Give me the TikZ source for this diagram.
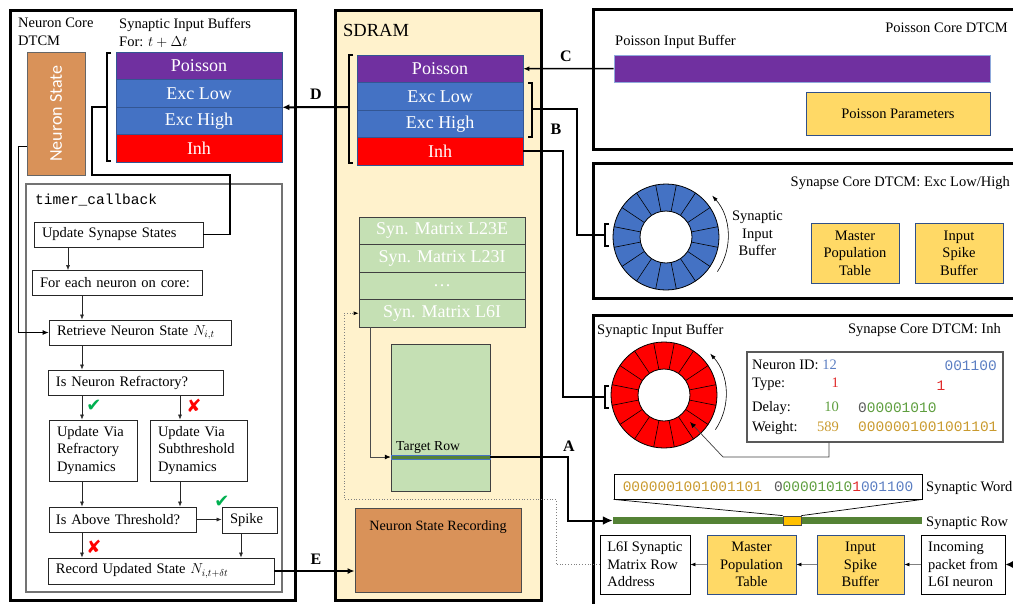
\documentclass[tikz,border=0pt]{standalone}
\usepackage{fontspec}
\setmainfont{Liberation Serif}
\setmonofont{Liberation Mono}
\newfontfamily\symfont{DejaVu Sans}
\newfontfamily\calfont{Carlito}
\usetikzlibrary{arrows.meta}
\definecolor{cpurple}{HTML}{7030A0}
\definecolor{cblue}{HTML}{4472C4}
\definecolor{cred}{HTML}{FF0000}
\definecolor{corange}{HTML}{D99259}
\definecolor{csdram}{HTML}{FFF2CC}
\definecolor{cgreenfill}{HTML}{C5E0B4}
\definecolor{cyellow}{HTML}{FFD966}
\definecolor{cdkgreen}{HTML}{548235}
\definecolor{cbit}{HTML}{FFC000}
\definecolor{tblue}{HTML}{5B7EC2}
\definecolor{tred}{HTML}{E02A2A}
\definecolor{tgreen}{HTML}{5E9E3E}
\definecolor{tgold}{HTML}{C99A2E}
\definecolor{tgray}{HTML}{595959}
\definecolor{ccheck}{HTML}{00B050}
\begin{document}
\begin{tikzpicture}[x=1pt,y=-1pt,font=\fontsize{14.5}{17.5}\selectfont,
  panel/.style={draw=black,line width=3pt},
  buf/.style={fill=#1,draw=cblue!75!black,line width=0.6pt,minimum width=166pt,minimum height=27.5pt,inner sep=0pt,text=white,font=\fontsize{18}{20}\selectfont},
  mat/.style={fill=cgreenfill,draw=black!75,line width=0.8pt,minimum width=166pt,minimum height=27.5pt,inner sep=0pt,text=white,font=\fontsize{18}{20}\selectfont},
  flow/.style={draw=black!85,line width=0.8pt,align=left,inner xsep=8pt,inner ysep=0pt,minimum height=25pt},
  ybox/.style={fill=cyellow,draw=cblue!70!black,line width=0.8pt,align=center,inner sep=0pt,minimum width=88pt,minimum height=60pt},
  wbox/.style={draw=black,line width=0.8pt,align=left,inner sep=0pt,minimum height=59pt},
  arr/.style={draw=black!85,line width=0.6pt,-{Latex[length=5pt,width=4pt]}},
  garr/.style={draw=black!50,line width=0.8pt,-{Latex[length=5pt,width=4pt,black]}},
  heavy/.style={line width=1.8pt},
  lbl/.style={font=\bfseries\fontsize{16}{18}\selectfont,inner sep=0pt},
  txt/.style={inner sep=0pt},
  mono/.style={font=\ttfamily\fontsize{14.5}{17}\selectfont,inner sep=0pt},
  tick/.style={font=\symfont\fontsize{18}{18}\selectfont,inner sep=0pt}
]
\useasboundingbox (0,0) rectangle (1013,603);

% ---------------- Left panel: Neuron Core DTCM ----------------
\draw[panel] (10,10) rectangle (295,600);
\node[txt,anchor=base west] at (18,27) {Neuron Core};
\node[txt,anchor=base west] at (18,45) {DTCM};
\node[txt,anchor=base west] at (119,28) {Synaptic Input Buffers};
\node[txt,anchor=base west] at (119,46) {For: $t+\Delta t$};

\node[fill=corange,draw=black!60,line width=0.6pt,minimum width=58pt,minimum height=123pt,inner sep=0pt] (nstate) at (56,113.5) {};
\node[rotate=90,text=white,font=\calfont\fontsize{18}{20}\selectfont,inner sep=0pt] at (nstate.center) {Neuron State};

\node[buf=cpurple] (lP) at (199,65.75) {Poisson};
\node[buf=cblue] (lEL) at (199,93.25) {Exc Low};
\node[buf=cblue] (lEH) at (199,120.75) {Exc High};
\node[buf=cred] (lI) at (199,148.25) {Inh};

\draw[draw=black!55,line width=1.5pt] (26,184) rectangle (282,592);
\node[mono,anchor=base west] at (35,204) {timer\_callback};

\node[flow,text width=153pt] (uss) at (118.5,234.5) {Update Synapse States};
\node[flow,text width=154pt] (fen) at (117,283) {For each neuron on core:};
\node[flow,text width=166pt] (rns) at (140,332.5) {Retrieve Neuron State $N_{i,t}$};
\node[flow,text width=159pt] (inr) at (135.5,382.5) {Is Neuron Refractory?};
\node[flow,text width=72pt,minimum height=61pt] (urd) at (93,450.5) {Update Via\\Refractory\\Dynamics};
\node[flow,text width=81pt,minimum height=61pt] (usd) at (198.5,450.5) {Update Via\\Subthreshold\\Dynamics};
\node[flow,text width=133pt,inner xsep=7pt] (iat) at (122.5,519.5) {Is Above Threshold?};
\node[flow,text width=39pt,minimum height=26pt] (spk) at (249.5,520) {Spike};
\node[flow,text width=210pt,minimum height=26pt] (rus) at (161,571) {Record Updated State $N_{i,t+\delta t}$};

\draw[arr] (uss.south -| 68,0) -- (fen.north -| 68,0);
\draw[arr] (fen.south -| 82,0) -- (rns.north -| 82,0);
\draw[arr] (rns.south -| 82,0) -- (inr.north -| 82,0);
\draw[arr] (inr.south -| 82,0) -- (urd.north -| 82,0);
\draw[arr] (inr.south -| 180,0) -- (usd.north -| 180,0);
\draw[arr] (urd.south -| 82,0) -- (iat.north -| 82,0);
\draw[arr] (usd.south -| 180,0) -- (iat.north -| 180,0);
\draw[arr] (iat.east) -- (spk.west |- iat.east);
\draw[arr] (iat.south -| 82,0) -- (rus.north -| 82,0);
\draw[arr] (spk.south -| 241,0) -- (rus.north -| 241,0);

\node[tick,text=ccheck] at (94,406) {✔};
\node[tick,text=cred] at (194,406) {✘};
\node[tick,text=ccheck] at (222,502) {✔};
\node[tick,text=cred] at (94,547) {✘};

% neuron state -> retrieve
\draw[line width=0.8pt,-{Latex[length=6pt,width=5pt]}] (nstate.west |- 0,146) -- (18,146) -- (18,0 |- rns.west) -- (rns.west);

% bracket of left buffers -> update synapse states
\draw[heavy] (111,53) -- (107,53) -- (107,161) -- (111,161);
\coordinate (lbt) at (107,107);
\draw[heavy] (lbt) -- (92,107) -- (92,175) -- (230,175) -- (uss.east -| 230,0) -- (uss.east);

% ---------------- SDRAM ----------------
\draw[panel,fill=csdram] (335,10) rectangle (541,600);
\node[txt,anchor=base west,font=\fontsize{18.5}{20}\selectfont] at (343,36) {SDRAM};

\node[buf=cpurple] (sP) at (440,68.75) {Poisson};
\node[buf=cblue] (sEL) at (440,96.25) {Exc Low};
\node[buf=cblue] (sEH) at (440,123.75) {Exc High};
\node[buf=cred] (sI) at (440,151.25) {Inh};

\draw[heavy] (353,55) -- (349,55) -- (349,163) -- (353,163);
\coordinate (sbt) at (349,107);
\draw[line width=2pt,-{Latex[length=7pt,width=6pt]}] (sbt) -- (lEL.south east);
\node[lbl] at (316,94) {D};

\draw[heavy] (528,83) -- (532,83) -- (532,137) -- (528,137);
\coordinate (rbt) at (532,109);

\node[mat] (m1) at (442,230.75) {Syn. Matrix L23E};
\node[mat] (m2) at (442,258.25) {Syn. Matrix L23I};
\node[mat] (m3) at (442,285.75) {…};
\node[mat] (m4) at (442,313.25) {Syn. Matrix L6I};

\node[fill=cgreenfill,draw=black!75,line width=0.8pt,minimum width=99pt,minimum height=147pt,inner sep=0pt] (tmat) at (440.5,417.5) {};
\node[fill=cdkgreen,draw=cblue,line width=0.5pt,minimum width=99pt,minimum height=3.5pt,inner sep=0pt] (trow) at (440.5,457) {};
\node[txt,anchor=base west,font=\fontsize{13.7}{15}\selectfont] at (396,450) {Target Row};
\draw[line width=0.8pt,draw=black!70,-{Latex[length=6pt,width=5pt,black]}] (m4.south -| 370,0) -- (370,0 |- trow.west) -- (trow.west);

\node[fill=corange,draw=black!70,line width=0.8pt,minimum width=166pt,minimum height=84pt,inner sep=0pt] (nrec) at (438,550) {};
\node[txt,anchor=base,font=\fontsize{14.2}{16}\selectfont] at (438,530) {Neuron State Recording};

\draw[line width=2pt,-{Latex[length=7pt,width=6pt]}] (rus.east) -- (nrec.west |- rus.east);
\node[lbl] at (316,559) {E};

% ---------------- Poisson Core DTCM ----------------
\draw[panel] (593,9) rectangle (1025,149);
\node[txt,anchor=base east] at (1008,32.5) {Poisson Core DTCM};
\node[txt,anchor=base west] at (615,45.5) {Poisson Input Buffer};
\node[fill=cpurple,draw=cblue!60,line width=0.6pt,minimum width=376pt,minimum height=27pt,inner sep=0pt] (pbar) at (802,68.5) {};
\node[ybox,minimum width=184pt,minimum height=43pt] (pparam) at (898,113.5) {Poisson Parameters};
\draw[line width=1.5pt,-{Latex[length=6pt,width=5pt]}] (pbar.west) -- (sP.east);
\node[lbl] at (566,56) {C};

% ---------------- Synapse Core DTCM: Exc ----------------
\draw[panel] (593,163) rectangle (1025,298);
\node[txt,anchor=base east] at (1010,186) {Synapse Core DTCM: Exc Low/High};
\coordinate (ringB) at (666,237);
\fill[cblue,even odd rule] (ringB) circle[radius=53] (ringB) circle[radius=26];
\foreach \a in {0,22.5,...,337.5} \draw[line width=0.6pt] (ringB) ++(\a+11.25:26) -- ++(\a+11.25:27);
\draw[line width=0.8pt] (ringB) circle[radius=53] (ringB) circle[radius=26];
\draw[line width=0.6pt,-{Latex[length=6pt,width=4pt]}] (ringB) ++(34:62) arc[start angle=34,end angle=-42,radius=62];
\node[txt,align=center] at (757.5,233.5) {Synaptic\\Input\\Buffer};
\node[ybox] (mptB) at (855,253) {Master\\Population\\Table};
\node[ybox] (isbB) at (959,253) {Input\\Spike\\Buffer};
\draw[heavy] (609,224) -- (605,224) -- (605,246) -- (609,246);
\coordinate (ringBbr) at (605,235);
\draw[heavy] (rbt) -- (577,109) -- (577,235) -- (ringBbr);
\node[lbl] at (556,129) {B};

% ---------------- Synapse Core DTCM: Inh ----------------
\draw[panel] (593,315) rectangle (1025,612);
\node[txt,anchor=base west] at (597,334.5) {Synaptic Input Buffer};
\node[txt,anchor=base east] at (1001,333) {Synapse Core DTCM: Inh};
\coordinate (ringR) at (664,395);
\fill[cred,even odd rule] (ringR) circle[radius=53] (ringR) circle[radius=26];
\foreach \a in {0,22.5,...,337.5} \draw[line width=0.6pt] (ringR) ++(\a+11.25:26) -- ++(\a+11.25:27);
\draw[line width=0.8pt] (ringR) circle[radius=53] (ringR) circle[radius=26];
\draw[line width=0.6pt,-{Latex[length=6pt,width=4pt]}] (ringR) ++(34:62) arc[start angle=34,end angle=-42,radius=62];
\draw[heavy] (609,386) -- (605,386) -- (605,408) -- (609,408);
\coordinate (ringRbr) at (605,397);
\draw[heavy] (sI.east) -- (sI.east -| 563,0) -- (563,397) -- (ringRbr);

\node[draw=tgray,line width=1.2pt,minimum width=256pt,minimum height=90pt,inner sep=0pt] (info) at (875,397) {};
\node[txt,anchor=base west] at (752,369.5) {Neuron ID: \textcolor{tblue}{12}};
\node[mono,anchor=base east,text=tblue] at (997,370.5) {001100};
\node[txt,anchor=base west] at (752,387) {Type:};
\node[txt,anchor=base east,text=tred] at (839,387) {1};
\node[mono,anchor=base west,text=tred] at (936.3,390) {1};
\node[txt,anchor=base west] at (752,411) {Delay:};
\node[txt,anchor=base east,text=tgreen] at (839,411) {10};
\node[mono,anchor=base west] at (858,412) {\textcolor{tgray}{0}\textcolor{tgreen}{00001010}};
\node[txt,anchor=base west] at (752,431.5) {Weight:};
\node[txt,anchor=base east,text=tgold] at (839,431.5) {589};
\node[mono,anchor=base west,text=tgold] at (858,431.5) {0000001001001101};
\coordinate (ptrend) at (690,422);
\draw[line width=0.7pt,draw=black!75,-{Latex[length=6pt,width=5pt,black]}] (info.south -| 829,0) -- (829,457) -- (723,457) -- (ptrend);

\node[draw,line width=0.8pt,minimum width=308pt,minimum height=25pt,inner sep=0pt,font=\ttfamily\fontsize{14.5}{17}\selectfont] (word) at (768,486.5) {\textcolor{tgold}{0000001001001101}\hspace{12pt}\textcolor{tgray}{0}\textcolor{tgreen}{00001010}\textcolor{tred}{1}\textcolor{tblue}{001100}};
\node[txt,anchor=base west] at (926,491.5) {Synaptic Word};
\node[fill=cdkgreen,minimum width=309pt,minimum height=7pt,inner sep=0pt] (srow) at (767.5,520.5) {};
\node[fill=cbit,draw=black!70,line width=0.8pt,minimum width=18pt,minimum height=9pt,inner sep=0pt] (sbit) at (792,520.5) {};
\draw[line width=0.7pt] (word.south west) -- (sbit.north west);
\draw[line width=0.7pt] (word.south east) -- (sbit.north east);
\node[txt,anchor=base west] at (926,526) {Synaptic Row};

\draw[line width=2pt,-{Latex[length=10pt,width=9pt]}] (trow.east) -- (trow.east -| 568,0) -- (568,0 |- srow.west) -- (srow.west);
\node[lbl] at (569,446) {A};

\node[wbox,minimum width=90pt] (addr) at (645,564.5) {L6I Synaptic\\Matrix Row\\Address};
\node[ybox,minimum width=89pt,minimum height=59pt] (mptR) at (751.5,564.5) {Master\\Population\\Table};
\node[ybox,minimum width=87pt,minimum height=59pt] (isbR) at (860.5,564.5) {Input\\Spike\\Buffer};
\node[wbox,minimum width=84pt] (inc) at (963,564.5) {Incoming\\packet from\\L6I neuron};
\draw[garr] (inc.west) -- (isbR.east);
\draw[garr] (isbR.west) -- (mptR.east);
\draw[garr] (mptR.west) -- (addr.east);
\coordinate (incsrc) at (1018,564.5);
\draw[line width=2pt,-{Latex[length=9pt,width=9pt]}] (incsrc) -- (inc.east);

\draw[dotted,draw=black!50,line width=0.8pt,-{Latex[length=5pt,width=4pt,black]}] (addr.west) -- (addr.west -| 556,0) -- (556,499) -- (344,499) -- (344,0 |- m4.west) -- (m4.west);
\end{tikzpicture}
\end{document}
